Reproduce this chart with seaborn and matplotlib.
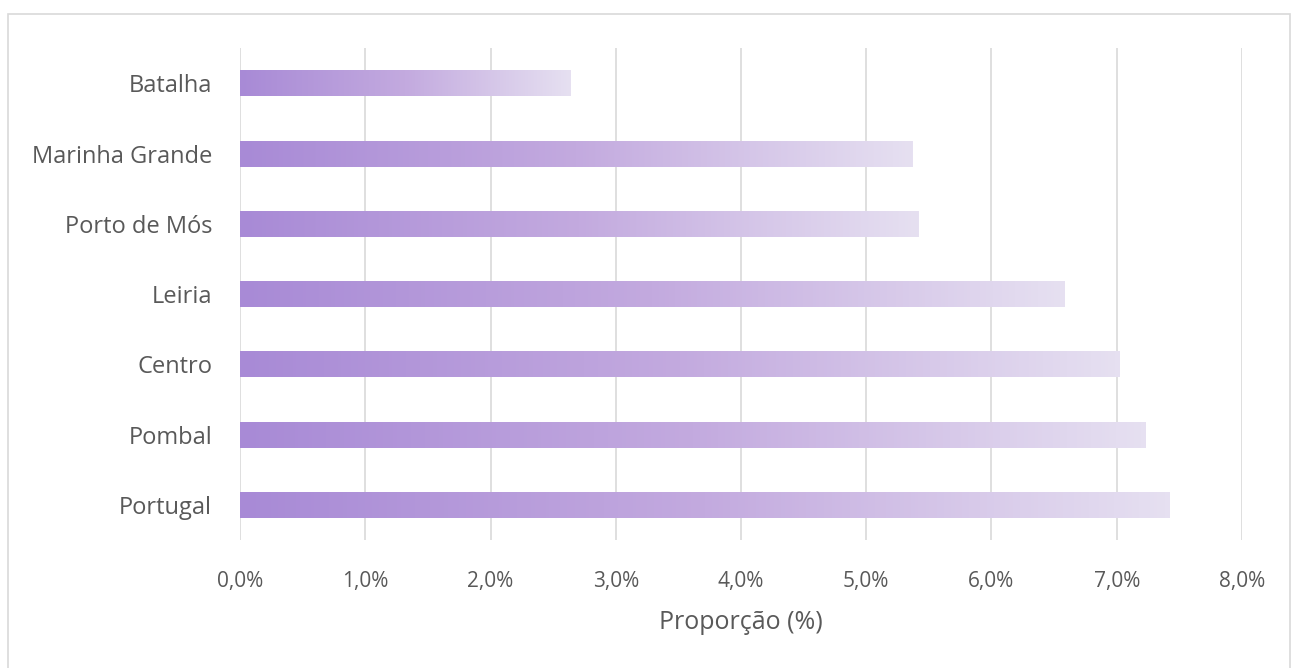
import numpy as np
import pandas as pd
import seaborn as sns
from matplotlib import pyplot as plt
from matplotlib.colors import LinearSegmentedColormap
from matplotlib.patches import Rectangle
from matplotlib.ticker import FuncFormatter

# Values (proportion, %)
regioes = ['Batalha', 'Marinha Grande', 'Porto de Mós', 'Leiria', 'Centro', 'Pombal', 'Portugal']
proporcao = [2.64, 5.37, 5.42, 6.58, 7.02, 7.23, 7.42]
x_ticks = [0, 1, 2, 3, 4, 5, 6, 7, 8]

df = pd.DataFrame({'Regiao': regioes, 'Proporcao': proporcao})

sns.set_style('white')
plt.rcParams['font.family'] = ['Open Sans', 'DejaVu Sans']

fig = plt.figure(figsize=(12.96, 6.68), dpi=100)
ax = fig.add_axes([0.1852, 0.1916, 0.7731, 0.7364])

sns.barplot(data=df, x='Proporcao', y='Regiao', orient='h',
            color='#b9a2dc', width=0.37, ax=ax)

# gradient fill along each bar, from purple to pale lavender
cmap = LinearSegmentedColormap.from_list('lav', ['#a88ad6', '#c3aadf', '#e6e0f1'])
grad = np.linspace(0, 1, 256).reshape(1, -1)
for patch in ax.patches:
    x0, y0 = patch.get_x(), patch.get_y()
    w, h = patch.get_width(), patch.get_height()
    patch.set_facecolor('none')
    patch.set_edgecolor('none')
    im = ax.imshow(grad, cmap=cmap, aspect='auto', extent=[x0, x0 + w, y0 + h, y0],
                   zorder=2, interpolation='bilinear')
    im.set_clip_path(patch)

ax.set_xlim(0, 8)
ax.set_ylim(6.5, -0.5)
ax.set_xticks(x_ticks)
ax.xaxis.set_major_formatter(FuncFormatter(lambda v, p: f'{v:.1f}%'.replace('.', ',')))
ax.grid(axis='x', color='#d9d9d9', linewidth=1.2, zorder=0)
ax.set_axisbelow(True)
for s in ax.spines.values():
    s.set_visible(False)
ax.tick_params(axis='y', length=0, labelsize=17, colors='#595959', pad=20)
ax.tick_params(axis='x', length=0, labelsize=15, colors='#595959', pad=22)
ax.set_ylabel('')
ax.set_xlabel('Proporção (%)', fontsize=18, color='#595959', labelpad=13)

# light frame around the chart area
fig.patches.append(Rectangle((8 / 1296, -0.01), 1282 / 1296, 1 - 14 / 668 + 0.01,
                             transform=fig.transFigure, fill=False,
                             edgecolor='#d9d9d9', linewidth=1.2))

fig.savefig('out.png', dpi=100)
